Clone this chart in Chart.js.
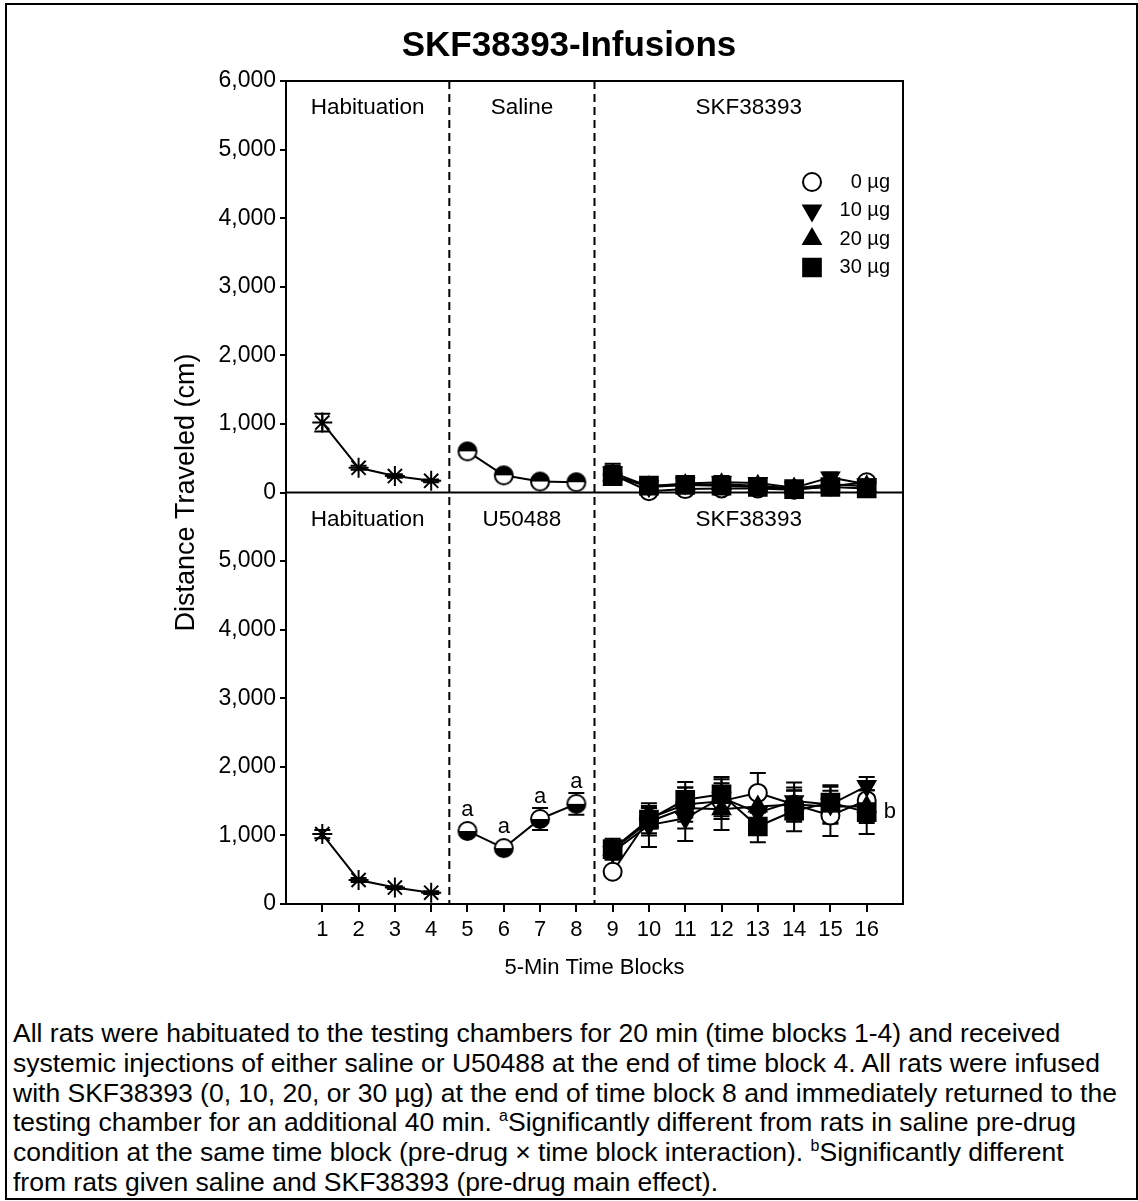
<!DOCTYPE html>
<html lang="en">
<head>
    <meta charset="UTF-8">
    <title>SKF38393-Infusions</title>
    <script src="https://cdn.jsdelivr.net/npm/chart.js@4.4.1/dist/chart.umd.min.js"></script>
    <style>
        body {
            margin: 0;
            background: #fff;
            font-family: 'Liberation Sans', Arial, sans-serif;
        }
        .frame {
            position: absolute;
            left: 5px;
            top: 3px;
            width: 1133px;
            height: 1197px;
            box-sizing: border-box;
            border: 2px solid #000;
        }
        .chart-box {
            position: absolute;
            left: 0;
            top: 0;
            width: 1138px;
            height: 1000px;
        }
        .caption {
            position: absolute;
            left: 13px;
            top: 1019px;
            white-space: nowrap;
            font-size: 26.5px;
            line-height: 29.8px;
            color: #000;
        }
        .caption sup {
            font-size: 16px;
            line-height: 0;
        }
    </style>
</head>
<body>
    <div class="frame"></div>
    <div class="chart-box">
        <canvas id="chart"></canvas>
    </div>
    <div class="caption">
        All rats were habituated to the testing chambers for 20 min (time blocks 1-4) and received<br>
        systemic injections of either saline or U50488 at the end of time block 4. All rats were infused<br>
        with SKF38393 (0, 10, 20, or 30 µg) at the end of time block 8 and immediately returned to the<br>
        testing chamber for an additional 40 min. <sup>a</sup>Significantly different from rats in saline pre-drug<br>
        condition at the same time block (pre-drug × time block interaction). <sup>b</sup>Significantly different<br>
        from rats given saline and SKF38393 (pre-drug main effect).
    </div>

    <script>
        // time blocks
        const habBlocks = [1, 2, 3, 4];
        const preBlocks = [5, 6, 7, 8];
        const drugBlocks = [9, 10, 11, 12, 13, 14, 15, 16];
        const xTicks = [1, 2, 3, 4, 5, 6, 7, 8, 9, 10, 11, 12, 13, 14, 15, 16];
        const doseLabels = ['0 µg', '10 µg', '20 µg', '30 µg'];
        const topPhases = ['Habituation', 'Saline', 'SKF38393'];
        const bottomPhases = ['Habituation', 'U50488', 'SKF38393'];
        const phaseEdges = [0, 4.5, 8.5, 17];

        // upper panel: saline pre-drug
        const habSal = [1020, 360, 240, 170];
        const habSalErr = [130, 30, 25, 20];
        const preSal = [600, 250, 160, 150];
        const preSalErr = [50, 30, 20, 20];
        const salDose0 = [260, 20, 50, 60, 60, 40, 90, 150];
        const salDose10 = [290, 90, 130, 150, 140, 70, 220, 120];
        const salDose20 = [250, 80, 110, 120, 100, 60, 120, 90];
        const salDose30 = [240, 100, 110, 100, 80, 50, 80, 60];
        const salDoseErr = [130, 40, 60, 90, 70, 50, 70, 60];

        // lower panel: U50488 pre-drug
        const habU = [1020, 350, 240, 165];
        const habUErr = [60, 30, 20, 20];
        const preU = [1065, 815, 1240, 1460];
        const preUErr = [60, 50, 160, 160];
        const uDose0 = [470, 1250, 1450, 1500, 1620, 1450, 1290, 1510];
        const uDose10 = [760, 1150, 1250, 1550, 1330, 1500, 1450, 1720];
        const uDose20 = [790, 1200, 1400, 1380, 1420, 1450, 1420, 1420];
        const uDose30 = [800, 1230, 1520, 1600, 1130, 1360, 1480, 1340];
        const uDose0Err = [60, 150, 250, 260, 290, 250, 300, 250];
        const uDose10Err = [110, 320, 330, 270, 250, 270, 280, 130];
        const uDose20Err = [120, 200, 300, 300, 250, 200, 230, 240];
        const uDose30Err = [150, 200, 260, 250, 230, 300, 230, 320];

        const PANEL = 6000; // each panel spans 0-6000 cm; upper panel sits on top
        const FONT = "'Liberation Sans', Arial, sans-serif";

        function halfCircle(r, blackTop) {
            const c = document.createElement('canvas');
            const s = 2 * r + 4;
            c.width = s; c.height = s;
            const g = c.getContext('2d');
            g.beginPath(); g.arc(s / 2, s / 2, r, 0, Math.PI * 2);
            g.fillStyle = '#fff'; g.fill();
            g.beginPath();
            if (blackTop) g.arc(s / 2, s / 2, r, Math.PI, Math.PI * 2);
            else g.arc(s / 2, s / 2, r, 0, Math.PI);
            g.closePath();
            g.fillStyle = '#000'; g.fill();
            g.beginPath(); g.arc(s / 2, s / 2, r, 0, Math.PI * 2);
            g.lineWidth = 2; g.strokeStyle = '#000'; g.stroke();
            return c;
        }

        function pts(blocks, vals, offset) {
            return vals.map((v, i) => ({ x: blocks[i], y: v + offset }));
        }

        const doseStyles = [
            { pointStyle: 'circle', pointRadius: 9, pointBackgroundColor: '#fff', rotation: 0 },
            { pointStyle: 'triangle', pointRadius: 10, pointBackgroundColor: '#000', rotation: 180 },
            { pointStyle: 'triangle', pointRadius: 10, pointBackgroundColor: '#000', rotation: 0 },
            { pointStyle: 'rect', pointRadius: 12.5, pointBackgroundColor: '#000', rotation: 0 }
        ];

        function series(blocks, vals, errs, offset, style, label) {
            return Object.assign({
                label: label,
                data: pts(blocks, vals, offset),
                errors: errs,
                borderColor: '#000',
                borderWidth: 2,
                pointBorderColor: '#000',
                pointBorderWidth: 2,
                pointBackgroundColor: '#000',
                showLine: true,
                tension: 0
            }, style);
        }

        const starStyle = { pointStyle: 'star', pointRadius: 10 };
        const datasets = [
            series(drugBlocks, uDose30, uDose30Err, 0, doseStyles[3], doseLabels[3]),
            series(drugBlocks, uDose20, uDose20Err, 0, doseStyles[2], doseLabels[2]),
            series(drugBlocks, uDose10, uDose10Err, 0, doseStyles[1], doseLabels[1]),
            series(drugBlocks, uDose0, uDose0Err, 0, doseStyles[0], doseLabels[0]),
            series(preBlocks, preU, preUErr, 0, { pointStyle: halfCircle(9, false), pointRadius: 9 }, 'U50488'),
            series(habBlocks, habU, habUErr, 0, starStyle, 'Habituation U'),
            series(drugBlocks, salDose30, salDoseErr, PANEL, doseStyles[3], doseLabels[3]),
            series(drugBlocks, salDose20, salDoseErr, PANEL, doseStyles[2], doseLabels[2]),
            series(drugBlocks, salDose10, salDoseErr, PANEL, doseStyles[1], doseLabels[1]),
            series(drugBlocks, salDose0, salDoseErr, PANEL, doseStyles[0], doseLabels[0]),
            series(preBlocks, preSal, preSalErr, PANEL, { pointStyle: halfCircle(9, true), pointRadius: 9 }, 'Saline'),
            series(habBlocks, habSal, habSalErr, PANEL, starStyle, 'Habituation S')
        ];

        const overlay = {
            id: 'overlay',
            beforeDatasetsDraw(chart) {
                const { ctx, chartArea: a, scales: { x, y } } = chart;
                ctx.save();
                ctx.strokeStyle = '#000';
                ctx.lineWidth = 2;
                // frame and panel divider
                ctx.beginPath();
                ctx.moveTo(a.left, a.top); ctx.lineTo(a.right, a.top); ctx.lineTo(a.right, a.bottom);
                const mid = y.getPixelForValue(PANEL);
                ctx.moveTo(a.left, mid); ctx.lineTo(a.right, mid);
                ctx.stroke();
                // phase dividers
                ctx.setLineDash([8, 5]);
                phaseEdges.slice(1, -1).forEach(e => {
                    const px = x.getPixelForValue(e);
                    ctx.beginPath(); ctx.moveTo(px, a.top); ctx.lineTo(px, a.bottom); ctx.stroke();
                });
                ctx.setLineDash([]);
                // error bars
                chart.data.datasets.forEach((ds, i) => {
                    const meta = chart.getDatasetMeta(i);
                    meta.data.forEach((p, j) => {
                        const v = ds.data[j].y, e = ds.errors[j];
                        const y1 = y.getPixelForValue(v + e), y2 = y.getPixelForValue(v - e);
                        ctx.beginPath();
                        ctx.moveTo(p.x, y1); ctx.lineTo(p.x, y2);
                        ctx.moveTo(p.x - 8, y1); ctx.lineTo(p.x + 8, y1);
                        ctx.moveTo(p.x - 8, y2); ctx.lineTo(p.x + 8, y2);
                        ctx.stroke();
                    });
                });
                ctx.restore();
            },
            afterDatasetsDraw(chart) {
                const { ctx, chartArea: a, scales: { x, y } } = chart;
                ctx.save();
                ctx.fillStyle = '#000';
                // title, centred on the whole figure
                ctx.textAlign = 'center';
                ctx.textBaseline = 'alphabetic';
                ctx.font = 'bold 35px ' + FONT;
                ctx.fillText('SKF38393-Infusions', chart.width / 2, 56);
                ctx.textBaseline = 'middle';
                ctx.font = '22.5px ' + FONT;
                // phase names
                const mid = y.getPixelForValue(PANEL);
                for (let k = 0; k < 3; k++) {
                    const cx = x.getPixelForValue((phaseEdges[k] + phaseEdges[k + 1]) / 2);
                    ctx.fillText(topPhases[k], cx, a.top + 27);
                    ctx.fillText(bottomPhases[k], cx, mid + 27);
                }
                // "a" marks above the U50488 points
                ctx.font = '22px ' + FONT;
                const uMeta = chart.getDatasetMeta(4);
                uMeta.data.forEach((p, j) => {
                    const top = Math.min(p.y - 10, y.getPixelForValue(preU[j] + preUErr[j]));
                    ctx.textBaseline = 'alphabetic';
                    ctx.fillText('a', p.x, top - 5);
                });
                // "b" mark beside the last block
                const last = chart.getDatasetMeta(0).data[drugBlocks.length - 1];
                ctx.textAlign = 'left';
                ctx.textBaseline = 'middle';
                ctx.fillText('b', last.x + 17, last.y);
                // legend
                ctx.font = '20px ' + FONT;
                ctx.textAlign = 'right';
                ctx.lineWidth = 2;
                ctx.strokeStyle = '#000';
                doseStyles.forEach((s, k) => {
                    const ly = a.top + 101 + k * 28.5;
                    ctx.fillStyle = s.pointBackgroundColor;
                    Chart.helpers.drawPoint(ctx, {
                        pointStyle: s.pointStyle, radius: s.pointRadius,
                        rotation: s.rotation, borderWidth: 2
                    }, a.right - 91, ly);
                    ctx.fillStyle = '#000';
                    ctx.fillText(doseLabels[k], a.right - 13, ly);
                });
                ctx.restore();
            }
        };

        new Chart(document.getElementById('chart'), {
            type: 'scatter',
            data: { datasets: datasets },
            plugins: [overlay],
            options: {
                responsive: true,
                maintainAspectRatio: false,
                animation: false,
                layout: { padding: { left: 170, right: 235, top: 81, bottom: 0 } },
                plugins: {
                    legend: { display: false },
                    tooltip: { enabled: false },
                    title: { display: false }
                },
                scales: {
                    x: {
                        type: 'linear',
                        min: 0,
                        max: 17,
                        afterFit: s => { s.height = 96; },
                        afterBuildTicks: s => { s.ticks = xTicks.map(v => ({ value: v })); },
                        ticks: {
                            color: '#000',
                            font: { family: FONT, size: 22 },
                            padding: 5,
                            maxRotation: 0,
                            autoSkip: false
                        },
                        grid: { drawOnChartArea: false, drawTicks: true, tickLength: 8, color: '#000', lineWidth: 2 },
                        border: { display: true, color: '#000', width: 2 },
                        title: {
                            display: true,
                            text: '5-Min Time Blocks',
                            color: '#000',
                            font: { family: FONT, size: 22 },
                            padding: { top: 0, bottom: 19 }
                        }
                    },
                    y: {
                        min: 0,
                        max: 2 * PANEL,
                        afterFit: s => { s.width = 116; },
                        ticks: {
                            stepSize: 1000,
                            color: '#000',
                            font: { family: FONT, size: 23 },
                            padding: 4,
                            callback: v => (v > PANEL ? v - PANEL : (v === PANEL ? 0 : v)).toLocaleString('en-US')
                        },
                        grid: { drawOnChartArea: false, drawTicks: true, tickLength: 6, color: '#000', lineWidth: 2 },
                        border: { display: true, color: '#000', width: 2 },
                        title: {
                            display: true,
                            text: 'Distance Traveled (cm)',
                            color: '#000',
                            font: { family: FONT, size: 27 },
                            padding: { top: 0, bottom: 0 }
                        }
                    }
                }
            }
        });
    </script>
</body>
</html>
